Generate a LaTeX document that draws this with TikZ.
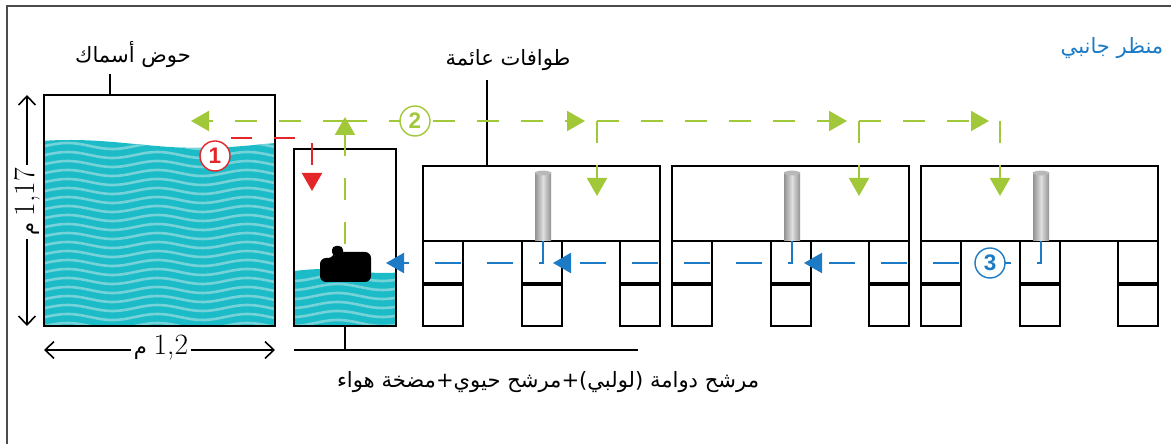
\documentclass[tikz,border=0pt]{standalone}
\usepackage{fontspec}
\usepackage{tikz}
\usetikzlibrary{arrows.meta, calc, positioning}
\TeXXeTstate=1
\newfontfamily\arabicfont[Script=Arabic]{DejaVu Sans}
\newfontfamily\numfont{Liberation Sans}
\definecolor{waterCyan}{RGB}{27,188,200}
\definecolor{waveLight}{RGB}{118,210,217}
\definecolor{flowGreen}{RGB}{160,200,56}
\definecolor{flowRed}{RGB}{228,38,42}
\definecolor{flowBlue}{RGB}{28,123,196}
\tikzstyle{wall}=[draw=black, line width=0.45mm]
\tikzstyle{leader}=[draw=black, line width=0.4mm]
\tikzstyle{measure}=[{Straight Barb[length=0.22cm,width=0.42cm]}-{Straight Barb[length=0.22cm,width=0.42cm]}, line width=0.4mm]
\tikzstyle{head}=[-{Triangle[length=0.45cm,width=0.5cm]}]
\tikzstyle{greenFlow}=[flowGreen, line width=0.5mm, dash pattern=on 0.55cm off 0.55cm, head]
\tikzstyle{redFlow}=[flowRed, line width=0.5mm, dash pattern=on 0.53cm off 0.55cm, head]
\tikzstyle{blueFlow}=[flowBlue, line width=0.5mm, dash pattern=on 0.65cm off 0.65cm, head]
\tikzstyle{stepNo}=[circle, fill=white, line width=0.35mm, minimum size=0.75cm, inner sep=0pt,
  font=\numfont\bfseries\fontsize{16}{16}\selectfont]
\tikzstyle{label}=[font=\arabicfont\fontsize{15}{18}\selectfont]
\tikzstyle{pipe}=[left color=gray!85, right color=gray!85, middle color=gray!25]
\tikzstyle{wave}=[waveLight, line width=0.065cm]

\begin{document}
\begin{tikzpicture}[x=0.025cm, y=-0.025cm]
  \useasboundingbox (0,0) rectangle (1171,444);
  \draw[black!70, line width=0.9pt] (7,444) -- (7,6) -- (1171,6);

  % fish tank with its water
  \begin{scope}
    \clip (44,95) rectangle (275,326);
    \fill[waterCyan] (44,326) -- plot[domain=44:275, samples=60] (\x, {144-4*cos((\x-70)*1.3846)}) -- (275,326) -- cycle;
    \begin{scope}
      \clip (44,326) -- plot[domain=44:275, samples=60] (\x, {144-4*cos((\x-70)*1.3846)}) -- (275,326) -- cycle;
      \foreach \k in {0,...,21}{
        \draw[wave] plot[domain=44:275, samples=50] (\x, {146+9*\k+3*sin(\x*4)});
      }
    \end{scope}
  \end{scope}
  \draw[wall] (44,95) rectangle (275,326);
  \coordinate (tankTop) at (110,95);
  \node[label] (tankName) at (133,55) {\beginR حوض أسماك\endR};
  \draw[leader] (tankTop) -- ++(0,-21);

  % dimensions of the tank
  \coordinate (hA) at (44,350);
  \coordinate (hB) at (275,350);
  \coordinate (vA) at (27,95);
  \coordinate (vB) at (27,326);
  \draw[measure] (hA) -- (hB);
  \draw[measure] (vA) -- (vB);
  \node[fill=white, inner sep=2pt, font=\fontsize{15}{15}\selectfont] (tankWidth) at (161,348)
    {\arabicfont\beginR\beginL{\rmfamily\fontsize{21}{21}\selectfont 1,2}\endL{} م\endR};
  \node[fill=white, inner sep=2pt, rotate=90, font=\fontsize{15}{15}\selectfont] (tankHeight) at (27,202)
    {\arabicfont\beginR\beginL{\rmfamily\fontsize{21}{21}\selectfont 1,17}\endL{} م\endR};

  % vortex filter box
  \begin{scope}
    \clip (294,149) rectangle (396,326);
    \fill[waterCyan] (294,326) -- plot[domain=294:396, samples=30] (\x, {271-2*sin((\x-294)*3)}) -- (396,326) -- cycle;
    \begin{scope}
      \clip (294,326) -- plot[domain=294:396, samples=30] (\x, {271-2*sin((\x-294)*3)}) -- (396,326) -- cycle;
      \foreach \k in {0,...,7}{
        \draw[wave] plot[domain=294:396, samples=30] (\x, {278+9*\k+3*sin(\x*4)});
      }
    \end{scope}
  \end{scope}
  \draw[wall] (294,149) rectangle (396,326);
  % air pump
  \fill[black, rounded corners=0.15cm] (320,282) -- (320,258) -- (334,258) -- (334,252) -- (371,252) -- (371,282) -- cycle;
  \fill[black, rounded corners=0.1cm] (332,256) rectangle (343,246);
  \coordinate (pumpTop) at (345,244);
  \coordinate (filterBase) at (345,326);
  \draw[leader] (filterBase) -- ++(0,24);
  \draw[leader] (294,350) -- (638,350);
  \node[label] (filterName) at (548,382) {\beginR مرشح دوامة (لولبي)+مرشح حيوي+مضخة هواء\endR};

  % floating raft units
  \foreach \u/\ux in {1/423, 2/672, 3/921}{
    \draw[wall, line width=0.35mm] (\ux,166) rectangle ++(237,75);
    \foreach \cx in {0,99,197}{
      \draw[wall] (\ux+\cx,241) rectangle ++(40,85);
      \draw[line width=0.8mm] (\ux+\cx,284) -- ++(40,0);
    }
    \shade[pipe] (\ux+112,241) rectangle (\ux+128,173);
    \fill[gray!55] (\ux+120,173) ellipse (0.2cm and 0.06cm);
    \coordinate (pipe\u) at (\ux+120,241);
  }
  \coordinate (raftTop) at (487,166);
  \draw[leader] (raftTop) -- ++(0,-86);
  \node[label] (raftName) at (508,60) {\beginR طوافات عائمة\endR};

  \node[label, text=flowBlue] (viewName) at (1112,48) {\beginR منظر جانبي\endR};

  % (1) tank to filter
  \coordinate (redStart) at (231,138);
  \coordinate (redEnd) at (312,191);
  \draw[redFlow] (redStart) -| (redEnd);
  \node[stepNo, draw=flowRed, text=flowRed] (stepOne) at (215,156) {1};

  % (2) pump back to tank and to the rafts
  \coordinate (gJoint) at (345,121);
  \coordinate (gB1) at (597,121);
  \coordinate (gB2) at (859,121);
  \coordinate (gB3) at (1000,121);
  \draw[greenFlow] (pumpTop) -- ($(gJoint)+(0,-4)$);
  \draw[greenFlow] (gJoint) -- (191,121);
  \draw[greenFlow] (gJoint) -- ($(gB1)+(-12,0)$);
  \draw[greenFlow] (gB1) -- ($(gB2)+(-12,0)$);
  \draw[greenFlow] (gB2) -- ($(gB3)+(-11,0)$);
  \foreach \b in {gB1, gB2, gB3}{
    \draw[greenFlow] (\b) -- ++(0,75);
  }
  \node[stepNo, draw=flowGreen, text=flowGreen] (stepTwo) at (415,121) {2};

  % (3) rafts back to filter
  \draw[blueFlow] (pipe3) |- ($(pipe2)+(12,22)$);
  \draw[blueFlow] (pipe2) |- ($(pipe1)+(10,22)$);
  \draw[blueFlow] (pipe1) |- (386,263);
  \node[stepNo, draw=flowBlue, text=flowBlue] (stepThree) at (990,263) {3};
\end{tikzpicture}
\end{document}
